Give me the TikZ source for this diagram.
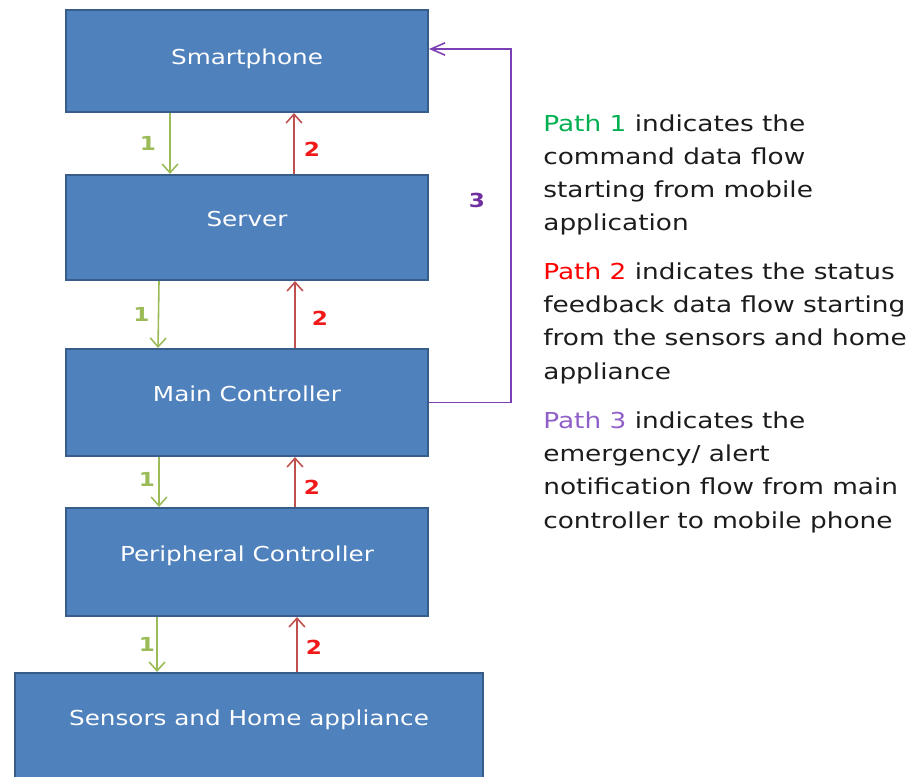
\documentclass[tikz,border=0pt]{standalone}
\usepackage{fontspec}
\newfontfamily\wideface{DejaVu Sans}[FakeStretch=1.2]
\usetikzlibrary{arrows.meta}
\definecolor{blockfill}{HTML}{4F81BD}
\definecolor{blockedge}{HTML}{385D8A}
\definecolor{cmdgreen}{HTML}{9BBB59}
\definecolor{statusred}{HTML}{C0504D}
\definecolor{alertpurple}{HTML}{7D3FB5}
\definecolor{numred}{HTML}{F01818}
\definecolor{numpurple}{HTML}{7030A0}
\definecolor{pathone}{HTML}{00B050}
\definecolor{pathtwo}{HTML}{FF0000}
\definecolor{paththree}{HTML}{9060C8}
\definecolor{legendtext}{HTML}{1C1C1C}
\begin{document}
\begin{tikzpicture}[x=0.02cm,y=-0.02cm,
	block/.style={rectangle, draw=blockedge, fill=blockfill, line width=1.2pt, minimum width=7.24cm, minimum height=2.1cm, text=white, font=\wideface\fontsize{11.7}{14}\selectfont, text height=0.25cm, text depth=0.29cm},
	cmd/.style={-{Straight Barb[length=5pt,width=9pt]}, draw=cmdgreen, line width=0.9pt},
	status/.style={-{Straight Barb[length=5pt,width=9pt]}, draw=statusred, line width=0.9pt},
	alert/.style={-{Straight Barb[length=8pt,width=7pt]}, draw=alertpurple, line width=0.9pt},
	num/.style={font=\wideface\bfseries\fontsize{11}{13}\selectfont, inner sep=0pt},
	legend/.style={anchor=base west, align=left, inner sep=0pt, text=legendtext, font=\wideface\fontsize{12.5}{18.9}\selectfont}]
	\useasboundingbox (0,0) rectangle (917,777);

	\node (phone)[block,minimum height=2.04cm,text height=0.3cm,text depth=0.14cm] at (247,61) {Smartphone};
	\node (server)[block] at (247,227.5) {Server};
	\node (main)[block,minimum height=2.14cm] at (247,402.5) {Main Controller};
	\node (periph)[block,minimum height=2.16cm] at (247,562) {Peripheral Controller};
	\node (sensors)[block,minimum width=9.36cm,minimum height=2.14cm] at (249,726.5) {Sensors and Home appliance};

	\draw[cmd] ([xshift=-1.54cm]phone.south) -- ([xshift=-1.54cm]phone.south |- server.north) node[num,text=cmdgreen,midway,xshift=-0.44cm] (one1) {1};
	\draw[status] ([xshift=0.94cm]server.north) -- ([xshift=0.94cm]server.north |- phone.south) node[num,text=numred,pos=0.4,xshift=0.36cm] (two1) {2};

	\draw[cmd] ([xshift=-1.76cm]server.south) -- ([xshift=-1.78cm]main.north) node[num,text=cmdgreen,midway,xshift=-0.34cm] (one2) {1};
	\draw[status] ([xshift=0.96cm]main.north) -- ([xshift=0.96cm]main.north |- server.south) node[num,text=numred,pos=0.45,xshift=0.5cm] (two2) {2};

	\draw[cmd] ([xshift=-1.76cm]main.south) -- ([xshift=-1.76cm]main.south |- periph.north) node[num,text=cmdgreen,pos=0.45,xshift=-0.24cm] (one3) {1};
	\draw[status] ([xshift=0.96cm]periph.north) -- ([xshift=0.96cm]periph.north |- main.south) node[num,text=numred,pos=0.4,xshift=0.34cm] (two3) {2};

	\draw[cmd] ([xshift=-1.8cm]periph.south) -- ([xshift=-1.8cm]periph.south |- sensors.north) node[num,text=cmdgreen,pos=0.5,xshift=-0.2cm] (one4) {1};
	\draw[status] ([xshift=0.96cm]sensors.north) -- ([xshift=0.96cm]sensors.north |- periph.south) node[num,text=numred,pos=0.45,xshift=0.34cm] (two4) {2};

	\draw[alert] (main.east) -- ++(1.64cm,0) |- ([yshift=0.24cm]phone.east);
	\node (three)[num,text=numpurple] at (477,200) {3};

	\node (legend1)[legend] at (543,231) {\textcolor{pathone}{Path 1} indicates the\\command data flow\\starting from mobile\\application};
	\node (legend2)[legend] at (543,379) {\textcolor{pathtwo}{Path 2} indicates the status\\feedback data flow starting\\from the sensors and home\\appliance};
	\node (legend3)[legend] at (543,528) {\textcolor{paththree}{Path 3} indicates the\\emergency/ alert\\notification flow from main\\controller to mobile phone};
\end{tikzpicture}
\end{document}
